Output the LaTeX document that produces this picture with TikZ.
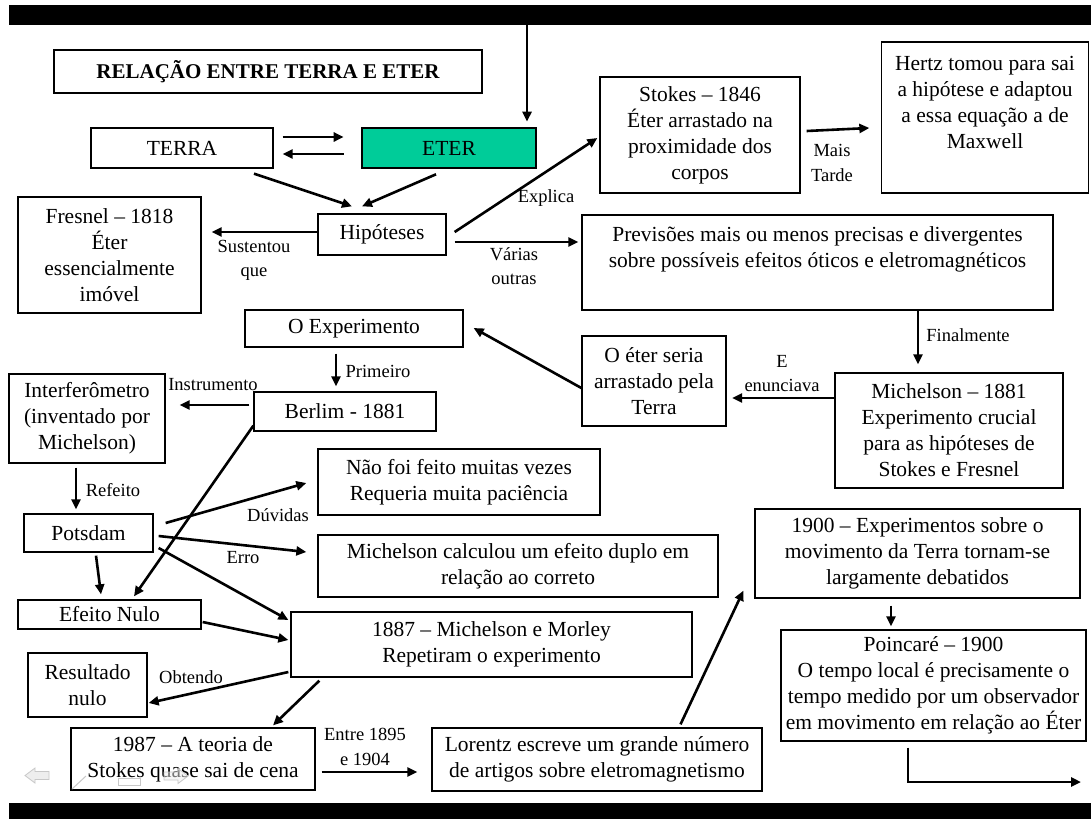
\documentclass[tikz,border=0pt]{standalone}
\usepackage{fontspec}
\setmainfont{Liberation Serif}
\usetikzlibrary{arrows.meta,calc}
\newcommand\txtsz{\fontsize{21.5}{26}\selectfont}
\newcommand\lblsz{\fontsize{18.5}{24.5}\selectfont}
\definecolor{etergreen}{RGB}{0,204,153}
\definecolor{navgray}{RGB}{200,200,200}
\definecolor{navfill}{RGB}{238,238,238}
\tikzset{
  box/.style={draw=black, line width=1.3pt, align=center, inner sep=0pt, font=\txtsz, text=black},
  frame/.style={draw=black, line width=1.3pt, inner sep=0pt},
  txt/.style={align=center, inner sep=0pt, font=\txtsz},
  lbl/.style={align=center, inner sep=0pt, font=\lblsz},
  arr/.style={line width=2.6pt, -{Triangle[length=10pt,width=9pt]}},
}
\begin{document}
\begin{tikzpicture}[x=1pt,y=-1pt]
\useasboundingbox (0,0) rectangle (1091,819);
\fill[white] (0,0) rectangle (1091,819);
% slide bars
\fill[black] (9,5) rectangle (1091,25);
\fill[black] (9,803) rectangle (1091,819);

% title
\node[box, line width=2.4pt, minimum width=428pt, minimum height=43pt, font=\fontsize{21}{26}\bfseries\selectfont] (title) at (268,71.5) {RELAÇÃO ENTRE TERRA E ETER};

% boxes
\node[box, minimum width=182pt, minimum height=40pt] (terra) at (182,148) {TERRA};
\node[box, fill=etergreen, line width=2.6pt, minimum width=174pt, minimum height=40pt] (eter) at (449,148) {ETER};
\node[box, minimum width=128pt, minimum height=41pt] (hip) at (382,234.5) {Hipóteses};
\node[box, minimum width=183pt, minimum height=116pt] (fresnel) at (109.5,255) {Fresnel – 1818\\Éter\\essencialmente\\imóvel};
\node[box, minimum width=200pt, minimum height=116pt] (stokes) at (700,135) {Stokes – 1846\\Éter arrastado na\\proximidade dos\\corpos};
\node[frame, minimum width=207pt, minimum height=151pt] (hertz) at (985,117.5) {};
\node[txt, anchor=north] (hertzt) at ($(hertz.north)+(0,15)$) {Hertz tomou para sai\\a hipótese e adaptou\\a essa equação a de\\Maxwell};
\node[frame, minimum width=471pt, minimum height=95pt] (prev) at (817.5,262.5) {};
\node[txt, anchor=north] (prevt) at ($(prev.north)+(0,12)$) {Previsões mais ou menos precisas e divergentes\\sobre possíveis efeitos óticos e eletromagnéticos};
\node[box, minimum width=228pt, minimum height=115pt] (m1881) at (949,430.5) {Michelson – 1881\\Experimento crucial\\para as hipóteses de\\Stokes e Fresnel};
\node[box, minimum width=144pt, minimum height=90pt] (oeter) at (654,381) {O éter seria\\arrastado pela\\Terra};
\node[box, minimum width=218pt, minimum height=37pt] (oexp) at (354,328.5) {O Experimento};
\node[box, minimum width=182pt, minimum height=39pt] (berlim) at (345,411.5) {Berlim - 1881};
\node[box, minimum width=156pt, minimum height=89pt] (interf) at (87,418.5) {Interferômetro\\(inventado por\\Michelson)};
\node[box, minimum width=129pt, minimum height=38pt] (potsdam) at (88.5,533) {Potsdam};
\node[box, minimum width=282pt, minimum height=66pt] (naofoi) at (459,482) {Não foi feito muitas vezes\\Requeria muita paciência};
\node[box, minimum width=400pt, minimum height=62pt] (mcalc) at (518,566) {Michelson calculou um efeito duplo em\\relação ao correto};
\node[box, minimum width=183pt, minimum height=29pt] (efeito) at (109.5,614.5) {Efeito Nulo};
\node[box, minimum width=401pt, minimum height=65pt] (m1887) at (491.5,644.5) {1887 – Michelson e Morley\\Repetiram o experimento};
\node[box, minimum width=119pt, minimum height=64pt] (result) at (87.5,685) {Resultado\\nulo};
\node[box, minimum width=244pt, minimum height=62pt] (t1987) at (193,759) {1987 – A teoria de\\Stokes quase sai de cena};
\node[box, minimum width=330pt, minimum height=63pt] (lorentz) at (597,759.5) {Lorentz escreve um grande número\\de artigos sobre eletromagnetismo};
\node[box, minimum width=325pt, minimum height=89pt] (d1900) at (917.5,553.5) {1900 – Experimentos sobre o\\movimento da Terra tornam-se\\largamente debatidos};
\node[box, minimum width=305pt, minimum height=111pt] (poinc) at (933.5,685.5) {Poincaré – 1900\\O tempo local é precisamente o\\tempo medido por um observador\\em movimento em relação ao Éter};

% free ends
\coordinate (topin) at (527,25);
\coordinate (outr) at (1081,782);

% connectors
\draw[arr] (topin) -- ($(eter.north)+(78,-5)$);
\draw[arr] ($(terra.east)+(9,-11)$) -- ($(eter.west)+(-17,-11)$);
\draw[arr] ($(eter.west)+(-17,6)$) -- ($(terra.east)+(9,6)$);
\draw[arr] ($(terra.south)+(72,5)$) -- ($(hip.north)+(-30,-7)$);
\draw[arr] ($(eter.south)+(-13,5)$) -- ($(hip.north)+(-20,-7)$);
\draw[arr] ($(hip.west)+(0,-2.5)$) -- ($(fresnel.east)+(10,-23)$);
\draw[arr] ($(hip.east)+(8,-2.5)$) -- ($(stokes.west)+(-2,3)$);
\draw[arr] ($(hip.east)+(8,7.5)$) -- ($(prev.west)+(-3,-20.5)$);
\draw[arr] ($(stokes.east)+(6,-4)$) -- ($(hertz.west)+(-11.5,10.5)$);
\draw[arr] ($(prev.south)+(100.5,0)$) -- ($(m1881.north)+(-31,-8)$);
\draw[arr] ($(m1881.west)+(0,-32.5)$) -- ($(oeter.east)+(5.5,17)$);
\draw[arr] ($(oeter.west)+(0,7)$) -- ($(oexp.east)+(10,-0.5)$);
\draw[arr] ($(oexp.south)+(-18,6)$) -- ($(berlim.north)+(-9,-5)$);
\draw[arr] ($(berlim.west)+(-4,-6.5)$) -- ($(interf.east)+(14,-13.5)$);
\draw[arr] ($(interf.south)+(-11,4)$) -- ($(potsdam.north)+(-12.5,-4)$);
\draw[arr] ($(berlim.south west)+(0,-6)$) -- ($(efeito.north)+(24.5,-3)$);
\draw[arr] ($(potsdam.east)+(12,-10)$) -- ($(naofoi.west)+(-11,1)$);
\draw[arr] ($(potsdam.east)+(5,3)$) -- ($(mcalc.west)+(-11,-14)$);
\draw[arr] ($(potsdam.east)+(5,15)$) -- ($(m1887.west)+(-2,-24.5)$);
\draw[arr] ($(potsdam.south)+(7.5,3)$) -- ($(efeito.north)+(-8.5,-5)$);
\draw[arr] ($(efeito.east)+(1,7.5)$) -- ($(m1887.west)+(-2,-4.5)$);
\draw[arr] ($(m1887.west)+(-2,27.5)$) -- ($(result.east)+(1,18)$);
\draw[arr] ($(m1887.south west)+(29,3)$) -- ($(t1987.north)+(80,-2)$);
\draw[arr] ($(t1987.east)+(6,13)$) -- ($(lorentz.west)+(-14,12.5)$);
\draw[arr] ($(lorentz.north)+(83.5,-3)$) -- ($(d1900.south west)+(-11,-8)$);
\draw[arr] ($(d1900.south)+(-26.5,7)$) -- ($(poinc.north)+(-42.5,-3)$);
\draw[arr] ($(poinc.south)+(-25.5,6)$) |- (outr);

% connector labels
\node[lbl] (lsust) at (254,260.5) {Sustentou\\que};
\node[lbl] (lexpl) at (546,198) {Explica};
\node[lbl] (lvar) at (514,266) {Várias\\outras};
\node[lbl] (lmais) at (832,163) {Mais\\Tarde};
\node[lbl] (lfinal) at (968,335) {Finalmente};
\node[lbl] (lenun) at (782,373.5) {E\\enunciava};
\node[lbl] (lprim) at (378,371) {Primeiro};
\node[lbl] (linst) at (213,385) {Instrumento};
\node[lbl] (lref) at (113,490) {Refeito};
\node[lbl] (lduv) at (278,515) {Dúvidas};
\node[lbl] (lerro) at (243,558) {Erro};
\node[lbl] (lobt) at (191,677) {Obtendo};
\node[lbl] (lentre) at (365,747) {Entre 1895\\e 1904};

% faint slide navigation icons
\draw[navgray, fill=navfill, line width=0.8pt] (25,775.5) -- (35,768) -- (35,771.5) -- (49,771.5) -- (49,779.5) -- (35,779.5) -- (35,783) -- cycle;
\draw[navgray, line width=1pt] (72,789) -- (86,776);
\draw[navgray, line width=1pt] (118,778) rectangle (140,785);
\draw[navgray, fill=navfill, fill opacity=0.5, line width=0.8pt] (188,776) -- (178,768.5) -- (178,772) -- (164,772) -- (164,780) -- (178,780) -- (178,783.5) -- cycle;
\end{tikzpicture}
\end{document}
